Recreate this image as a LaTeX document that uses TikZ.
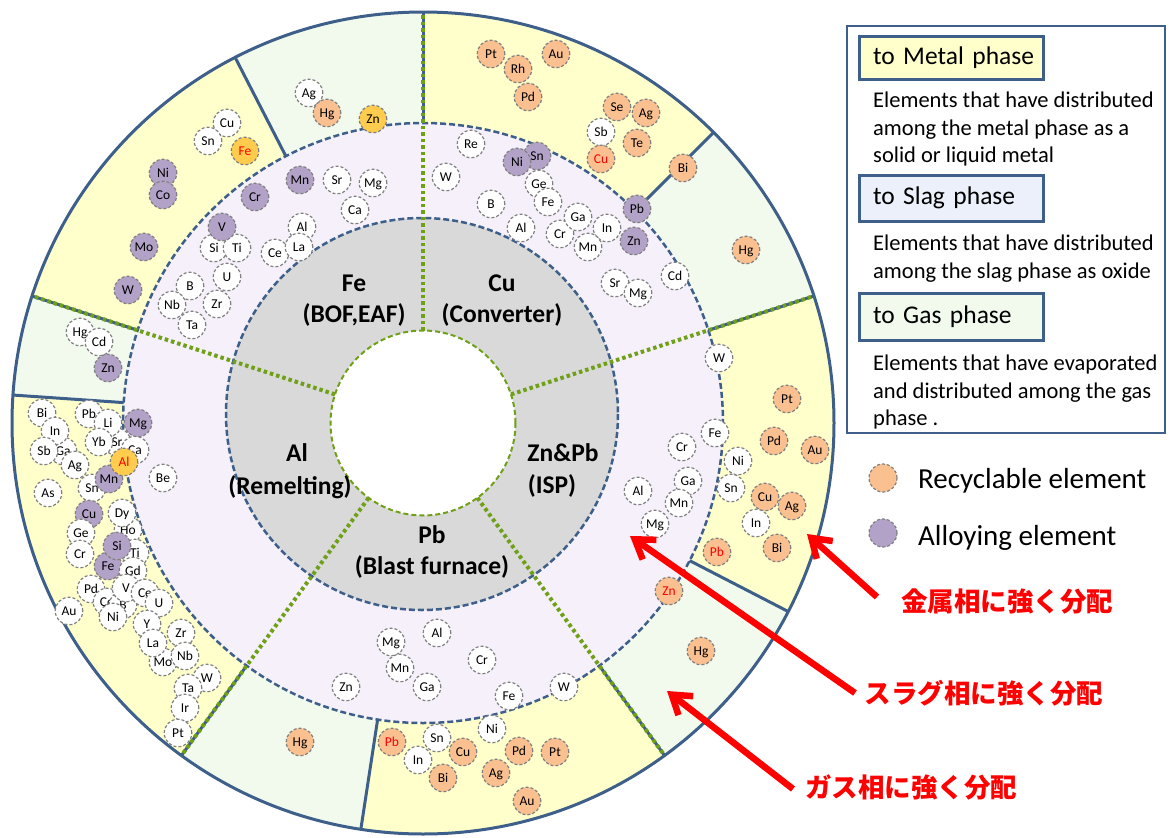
\documentclass[tikz,border=0pt]{standalone}
\usepackage{fontspec}
\setmainfont{Carlito}
\newfontfamily\jpfont{Noto Sans CJK JP}
\usepackage{tikz}
\usetikzlibrary{arrows.meta}
\definecolor{rimblue}{RGB}{61,95,138}
\definecolor{spokegreen}{RGB}{112,160,24}
\definecolor{metalyellow}{RGB}{255,255,204}
\definecolor{gasgreen}{RGB}{242,250,238}
\definecolor{slaglilac}{RGB}{245,240,250}
\definecolor{slagbox}{RGB}{236,240,250}
\definecolor{furnacegray}{RGB}{217,217,217}
\definecolor{recycleorange}{RGB}{250,192,144}
\definecolor{alloypurple}{RGB}{179,162,199}
\definecolor{mainyellow}{RGB}{255,204,77}
\definecolor{rimgray}{RGB}{128,128,128}
\newcommand{\elemfont}{\fontsize{13.5}{15}\selectfont}
\newcommand{\furnacefont}{\fontsize{25.5}{28}\selectfont\bfseries}
\newcommand{\titlefont}{\fontsize{25.5}{28}\selectfont}
\newcommand{\notefont}{\fontsize{22.5}{27.5}\selectfont}
\newcommand{\keyfont}{\fontsize{29}{32}\selectfont}
\newcommand{\jpnotefont}{\jpfont\bfseries\fontsize{26.5}{28}\selectfont}
\tikzstyle{every node}=[font=\elemfont]
\tikzstyle{elem}=[circle,
                  minimum size=27.5pt,
                  inner sep=0pt,
                  text height=8.8pt,
                  text depth=0pt,
                  line width=1.2pt,
                  dash pattern=on 3pt off 2pt,
                  draw=rimgray,
                  fill=white]
\tikzstyle{recycle}=[elem,fill=recycleorange]
\tikzstyle{alloy}=[elem,fill=alloypurple]
\tikzstyle{mainmetal}=[elem,fill=mainyellow]
\tikzstyle{hot}=[text=red]
\tikzstyle{furnace}=[font=\furnacefont,inner sep=0pt]
\tikzstyle{rimline}=[draw=rimblue,line width=3pt]
\tikzstyle{ringline}=[draw=rimblue,line width=2.5pt,dash pattern=on 6pt off 3pt]
\tikzstyle{coreline}=[draw=spokegreen,line width=2pt,dash pattern=on 5pt off 3pt]
\tikzstyle{spoke}=[draw=spokegreen,line width=4pt,dash pattern=on 3.5pt off 3pt]
\tikzstyle{phasebox}=[draw=rimblue,
                      line width=3pt,
                      anchor=north west,
                      outer sep=0pt,
                      inner xsep=14pt,
                      inner ysep=0pt,
                      text width=156pt,
                      align=left,
                      font=\titlefont]
\tikzstyle{note}=[anchor=north west,inner sep=0pt,align=left,font=\notefont]
\tikzstyle{keytext}=[anchor=west,inner sep=0pt,font=\keyfont]
\tikzstyle{jpnote}=[text=red,inner sep=0pt,font=\jpnotefont]
\tikzstyle{pointer}=[draw=red,line width=6.5pt,-{Straight Barb[length=18pt,width=24pt]}]
\begin{document}
\begin{tikzpicture}[x=1pt,y=-1pt]
\useasboundingbox (0,0) rectangle (1171,838);
% outer band: metal phase, with gas phase wedges
\begin{scope}[shift={(423,423)}]
\fill[metalyellow] (0,0) circle (411);
\fill[gasgreen] (0,0) -- (-117.2:411) arc[start angle=-117.2,end angle=-90,radius=411] -- cycle;
\fill[gasgreen] (0,0) -- (-45:411) arc[start angle=-45,end angle=-18,radius=411] -- cycle;
\fill[gasgreen] (0,0) -- (27.3:411) arc[start angle=27.3,end angle=54,radius=411] -- cycle;
\fill[gasgreen] (0,0) -- (98.7:411) arc[start angle=98.7,end angle=126,radius=411] -- cycle;
\fill[gasgreen] (0,0) -- (-176.1:411) arc[start angle=-176.1,end angle=-162,radius=411] -- cycle;
\fill[slaglilac] (0,0) circle (300);
\end{scope}
% furnaces
\fill[furnacegray] (422,414) circle (196);
\draw[ringline] (422,414) circle (196);
\fill[white] (423,423) circle (92.5);
\draw[coreline] (423,423) circle (92.5);
\draw[ringline] (423,423) circle (300);
\draw[rimline] (423,423) circle (411);
\begin{scope}[shift={(423,423)}]
\draw[rimline] (-117.2:300) -- (-117.2:411);
\draw[rimline] (-45:300) -- (-45:411);
\draw[rimline] (27.3:300) -- (27.3:411);
\draw[rimline] (98.7:300) -- (98.7:411);
\draw[rimline] (-176.1:300) -- (-176.1:411);
\draw[rimline] (-90:300) -- (-90:411);
\draw[rimline] (-18:300) -- (-18:411);
\draw[rimline] (54:300) -- (54:411);
\draw[rimline] (126:300) -- (126:411);
\draw[rimline] (-162:300) -- (-162:411);
\draw[spoke] (-90:92.5) -- (-90:411);
\draw[spoke] (-18:92.5) -- (-18:411);
\draw[spoke] (54:92.5) -- (54:411);
\draw[spoke] (126:92.5) -- (126:411);
\draw[spoke] (-162:92.5) -- (-162:411);
\end{scope}
\node (feName)   [furnace] at (354,283) {Fe};
\node (feProc)   [furnace] at (354,315) {(BOF,EAF)};
\node (cuName)   [furnace] at (502,283) {Cu};
\node (cuProc)   [furnace] at (502,315) {(Converter)};
\node (znName)   [furnace] at (563,453) {Zn\&Pb};
\node (znProc)   [furnace] at (552,486) {(ISP)};
\node (pbName)   [furnace] at (432,535) {Pb};
\node (pbProc)   [furnace] at (432,567) {(Blast furnace)};
\node (alName)   [furnace] at (297,453) {Al};
\node (alProc)   [furnace] at (290,487) {(Remelting)};
% Fe sector
\node (fgAg) [elem] at (309,93) {Ag};
\node (fgHg) [recycle] at (327,113) {Hg};
\node (fgZn) [mainmetal] at (373,119) {Zn};
\node (fmCu) [elem] at (227,123) {Cu};
\node (fmSn) [elem] at (208,141) {Sn};
\node (fmFe) [mainmetal,hot] at (245,151) {Fe};
\node (fmNi) [alloy] at (163,173) {Ni};
\node (fmCo) [alloy] at (163,195) {Co};
\node (fmMo) [alloy] at (144,247) {Mo};
\node (fmW)  [alloy] at (128,290) {W};
\node (fsMn) [alloy] at (300,180) {Mn};
\node (fsSr) [elem] at (337,180) {Sr};
\node (fsMg) [elem] at (373,183) {Mg};
\node (fsCa) [elem] at (355,210) {Ca};
\node (fsCr) [alloy] at (255,197) {Cr};
\node (fsAl) [elem] at (302,227) {Al};
\node (fsCe) [elem] at (275,253) {Ce};
\node (fsLa) [elem] at (299,247) {La};
\node (fsSi) [elem] at (214,248) {Si};
\node (fsTi) [elem] at (237,248) {Ti};
\node (fsV)  [alloy] at (222,227) {V};
\node (fsU)  [elem] at (227,277) {U};
\node (fsB)  [elem] at (190,286) {B};
\node (fsNb) [elem] at (172,305) {Nb};
\node (fsZr) [elem] at (217,304) {Zr};
\node (fsTa) [elem] at (192,325) {Ta};
% Cu sector
\node (cmPt) [recycle] at (491,54) {Pt};
\node (cmRh) [recycle] at (518,69) {Rh};
\node (cmAu) [recycle] at (556,54) {Au};
\node (cmPd) [recycle] at (528,97) {Pd};
\node (cmSe) [recycle] at (617,107) {Se};
\node (cmAg) [recycle] at (646,113) {Ag};
\node (cmSb) [elem] at (601,132) {Sb};
\node (cmTe) [recycle] at (637,143) {Te};
\node (cmCu) [recycle,hot] at (601,159) {Cu};
\node (cmBi) [recycle] at (683,168) {Bi};
\node (cgHg) [recycle] at (746,250) {Hg};
\node (csRe) [elem] at (471,144) {Re};
\node (csSn) [alloy] at (537,156) {Sn};
\node (csNi) [alloy] at (517,162) {Ni};
\node (csW)  [elem] at (446,177) {W};
\node (csGe) [elem] at (539,184) {Ge};
\node (csFe) [elem] at (548,202) {Fe};
\node (csB)  [elem] at (491,204) {B};
\node (csAl) [elem] at (521,228) {Al};
\node (csCr) [elem] at (560,234) {Cr};
\node (csGa) [elem] at (578,217) {Ga};
\node (csIn) [elem] at (607,228) {In};
\node (csMn) [elem] at (588,247) {Mn};
\node (csPb) [alloy] at (637,209) {Pb};
\node (csZn) [alloy] at (634,241) {Zn};
\node (csCd) [elem] at (675,276) {Cd};
\node (csSr) [elem] at (615,283) {Sr};
\node (csMg) [elem] at (638,293) {Mg};
% Zn&Pb sector
\node (zmPt) [recycle] at (787,399) {Pt};
\node (zmPd) [recycle] at (774,441) {Pd};
\node (zmAu) [recycle] at (815,450) {Au};
\node (zmNi) [elem] at (738,461) {Ni};
\node (zmSn) [elem] at (731,488) {Sn};
\node (zmCu) [recycle] at (765,497) {Cu};
\node (zmAg) [recycle] at (792,506) {Ag};
\node (zmIn) [elem] at (756,523) {In};
\node (zmPb) [recycle,hot] at (717,552) {Pb};
\node (zmBi) [recycle] at (777,548) {Bi};
\node (zgZn) [recycle,hot] at (669,591) {Zn};
\node (zgHg) [recycle] at (701,651) {Hg};
\node (zsW)  [elem] at (719,358) {W};
\node (zsFe) [elem] at (715,433) {Fe};
\node (zsCr) [elem] at (682,447) {Cr};
\node (zsGa) [elem] at (688,481) {Ga};
\node (zsAl) [elem] at (638,491) {Al};
\node (zsMn) [elem] at (679,503) {Mn};
\node (zsMg) [elem] at (655,524) {Mg};
% Pb sector
\node (psMg) [elem] at (391,642) {Mg};
\node (psAl) [elem] at (437,633) {Al};
\node (psMn) [elem] at (400,668) {Mn};
\node (psCr) [elem] at (482,660) {Cr};
\node (psZn) [elem] at (346,687) {Zn};
\node (psGa) [elem] at (427,687) {Ga};
\node (psFe) [elem] at (509,696) {Fe};
\node (psW)  [elem] at (564,687) {W};
\node (pmPb) [recycle,hot] at (392,742) {Pb};
\node (pmSn) [elem] at (437,738) {Sn};
\node (pmNi) [elem] at (492,729) {Ni};
\node (pmIn) [elem] at (418,760) {In};
\node (pmCu) [recycle] at (463,752) {Cu};
\node (pmPd) [recycle] at (519,751) {Pd};
\node (pmPt) [recycle] at (555,752) {Pt};
\node (pmBi) [recycle] at (443,778) {Bi};
\node (pmAg) [recycle] at (496,773) {Ag};
\node (pmAu) [recycle] at (527,801) {Au};
\node (pgHg) [recycle] at (300,742) {Hg};
% Al sector
\node (agHg) [elem] at (80,332) {Hg};
\node (agCd) [elem] at (99,342) {Cd};
\node (agZn) [alloy] at (108,368) {Zn};
\node (amGa) [elem] at (63,451) {Ga};
\node (amPb) [elem] at (89,414) {Pb};
\node (amSr) [elem] at (117,442) {Sr};
\node (amBi) [elem] at (42,413) {Bi};
\node (amIn) [elem] at (55,431) {In};
\node (amSb) [elem] at (44,451) {Sb};
\node (amLi) [elem] at (108,423) {Li};
\node (amYb) [elem] at (99,442) {Yb};
\node (amCa) [elem] at (135,450) {Ca};
\node (asMg) [alloy] at (138,423) {Mg};
\node (amAg) [elem] at (75,465) {Ag};
\node (amSn) [elem] at (92,488) {Sn};
\node (amMn) [alloy] at (109,479) {Mn};
\node (amAl) [mainmetal,hot] at (124,462) {Al};
\node (asBe) [elem] at (163,478) {Be};
\node (amAs) [elem] at (48,493) {As};
\node (amCu) [alloy] at (89,514) {Cu};
\node (amHo) [elem] at (128,530) {Ho};
\node (amDy) [elem] at (122,513) {Dy};
\node (amGe) [elem] at (81,533) {Ge};
\node (amCr) [elem] at (80,554) {Cr};
\node (amTi) [elem] at (135,553) {Ti};
\node (amFe) [alloy] at (108,566) {Fe};
\node (amSi) [alloy] at (117,546) {Si};
\node (amGd) [elem] at (133,571) {Gd};
\node (amPd) [elem] at (91,589) {Pd};
\node (amCo) [elem] at (107,602) {Co};
\node (amB)  [elem] at (123,605) {B};
\node (amV)  [elem] at (126,588) {V};
\node (amCe) [elem] at (145,593) {Ce};
\node (amU)  [elem] at (159,603) {U};
\node (amNi) [elem] at (113,617) {Ni};
\node (amAu) [elem] at (69,611) {Au};
\node (amY)  [elem] at (147,624) {Y};
\node (amMo) [elem] at (163,662) {Mo};
\node (amZr) [elem] at (181,633) {Zr};
\node (amLa) [elem] at (153,643) {La};
\node (amNb) [elem] at (185,656) {Nb};
\node (amW)  [elem] at (207,678) {W};
\node (amTa) [elem] at (188,688) {Ta};
\node (amIr) [elem] at (185,708) {Ir};
\node (amPt) [elem] at (178,733) {Pt};
% legend
\draw[draw=rimblue,line width=2pt] (847,26) rectangle (1165,433);
\node (metalBox) [phasebox,fill=metalyellow,minimum height=43pt] at (859,36) {\mbox{to Metal phase}};
\node (metalNote) [note] at (873,92) {Elements that have distributed\\among the metal phase as a\\solid or liquid metal};
\node (slagBox) [phasebox,fill=slagbox,minimum height=46pt] at (859,175) {\mbox{to Slag phase}};
\node (slagNote) [note] at (873,235) {Elements that have distributed\\among the slag phase as oxide};
\node (gasBox) [phasebox,fill=gasgreen,minimum height=47pt] at (859,293) {\mbox{to Gas phase}};
\node (gasNote) [note] at (873,355) {Elements that have evaporated\\and distributed among the gas\\phase .};
\node (recycleKey) [recycle,minimum size=28pt] at (883,478) {};
\node (recycleText) [keytext] at (918,481) {Recyclable element};
\node (alloyKey) [alloy,minimum size=28pt] at (883,533) {};
\node (alloyText) [keytext] at (918,538) {Alloying element};
% notes in Japanese
\node (metalJp) [jpnote] at (1007,601) {金属相に強く分配};
\node (slagJp) [jpnote] at (984,693) {スラグ相に強く分配};
\node (gasJp) [jpnote] at (911,787) {ガス相に強く分配};
\coordinate (metalTail) at (877,597);
\coordinate (metalTip) at (807,534);
\coordinate (slagTail) at (855,693);
\coordinate (slagTip) at (630,536);
\coordinate (gasTail) at (793,789);
\coordinate (gasTip) at (667,691);
\draw[pointer] (metalTail) -- (metalTip);
\draw[pointer] (slagTail) -- (slagTip);
\draw[pointer] (gasTail) -- (gasTip);
\end{tikzpicture}
\end{document}
